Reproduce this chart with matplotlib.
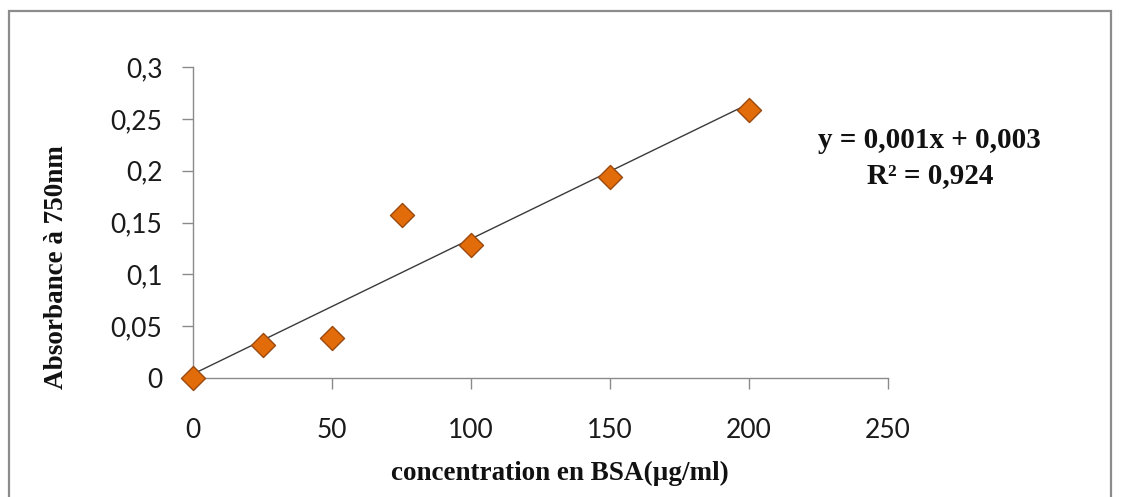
import numpy as np
import matplotlib
matplotlib.use("Agg")
import matplotlib.pyplot as plt
from matplotlib.patches import Rectangle
from matplotlib.ticker import FuncFormatter

# BSA calibration standards
concentration = [0, 25, 50, 75, 100, 150, 200]
absorbance = [0.0, 0.032, 0.039, 0.157, 0.128, 0.194, 0.259]
x_ticks = [0, 50, 100, 150, 200, 250]
y_ticks = [0, 0.05, 0.1, 0.15, 0.2, 0.25, 0.3]
equation_text = "y = 0,001x + 0,003"
r2_text = "R² = 0,924"

fig = plt.figure(figsize=(11.22, 4.97), dpi=100)
fig.patch.set_facecolor("white")

# outer chart frame
frame = Rectangle((9 / 1122, -0.05), (1111 - 9) / 1122, 1.05 - 11 / 497,
                  transform=fig.transFigure, fill=False,
                  edgecolor="#8c8c8c", linewidth=1.6)
fig.patches.append(frame)

ax = fig.add_axes([193 / 1122, 1 - 378 / 497, (888 - 193) / 1122, (378 - 67) / 497])

# linear trendline
slope, intercept = np.polyfit(concentration, absorbance, 1)
xs = np.array([min(concentration), max(concentration)])
ax.plot(xs, slope * xs + intercept, color="#3a3a3a", linewidth=1.0, zorder=2)

ax.scatter(concentration, absorbance, marker="D", s=150,
           facecolor="#E36C0A", edgecolor="#9a4a10", linewidth=1.0,
           zorder=3, clip_on=False)

ax.set_xlim(0, 250)
ax.set_ylim(0, 0.3)
ax.set_xticks(x_ticks)
ax.set_yticks(y_ticks)

def comma_fmt(v, pos):
    s = f"{v:.2f}".rstrip("0").rstrip(".")
    return s.replace(".", ",")

ax.xaxis.set_major_formatter(FuncFormatter(comma_fmt))
ax.yaxis.set_major_formatter(FuncFormatter(comma_fmt))

for side in ("top", "right"):
    ax.spines[side].set_visible(False)
for side in ("left", "bottom"):
    ax.spines[side].set_color("#8a8a8a")
    ax.spines[side].set_linewidth(1.0)

ax.tick_params(axis="both", direction="out", length=8, width=1.0,
               color="#8a8a8a", labelcolor="#1a1a1a", labelsize=19)
ax.tick_params(axis="y", pad=14)
ax.tick_params(axis="x", pad=21)
for lbl in ax.get_xticklabels() + ax.get_yticklabels():
    lbl.set_fontfamily("Lato")

label_font = dict(family="Liberation Serif", weight="bold", size=19.5, color="#111111")
fig.text(560 / 1122, 1 - 473 / 497, "concentration en BSA(µg/ml)",
         ha="center", va="center", **label_font)
fig.text(57 / 1122, 1 - 267 / 497, "Absorbance à 750nm", rotation=90,
         ha="center", va="center", **label_font)

eq_font = dict(family="Liberation Serif", weight="bold", size=21, color="#111111")
fig.text(929 / 1122, 1 - 141 / 497, equation_text, ha="center", va="center", **eq_font)
fig.text(930 / 1122, 1 - 176 / 497, r2_text, ha="center", va="center", **eq_font)

fig.savefig("out.png", dpi=100, facecolor="white")
